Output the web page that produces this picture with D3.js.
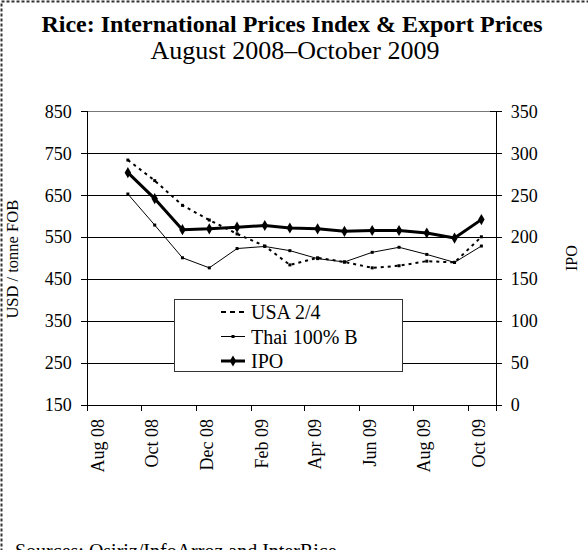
<!DOCTYPE html>
<html>
<head>
<meta charset="utf-8">
<script src="https://cdn.jsdelivr.net/npm/d3@7"></script>
<style>
  html, body { margin: 0; padding: 0; background: #fff; }
  svg { display: block; font-family: "Liberation Serif", "Times New Roman", serif; }
</style>
</head>
<body>
<svg id="chart" width="588" height="550"></svg>
<script>
// Monthly observations, Sep 2008 – Oct 2009
const months = ["2008-09","2008-10","2008-11","2008-12","2009-01","2009-02","2009-03",
                "2009-04","2009-05","2009-06","2009-07","2009-08","2009-09","2009-10"];
// USD / tonne FOB
const usa24   = [734, 685, 626, 591, 558, 529, 484, 501, 491, 477, 482, 493, 490, 551];
const thai100 = [653, 579, 501, 477, 523, 528, 518, 499, 491, 514, 526, 509, 490, 529];
// FAO rice price index (right axis)
const ipo     = [277, 246, 209, 210, 212, 214, 211, 210, 207, 208, 208, 205, 199, 221];

const xTickMonths = ["2008-08","2008-10","2008-12","2009-02","2009-04","2009-06","2009-08","2009-10"];
const xTickLabels = ["Aug 08","Oct 08","Dec 08","Feb 09","Apr 09","Jun 09","Aug 09","Oct 09"];
const leftTicks  = [150, 250, 350, 450, 550, 650, 750, 850];
const rightTicks = [0, 50, 100, 150, 200, 250, 300, 350];

const seriesNames = ["USA 2/4", "Thai 100% B", "IPO"];

const svg = d3.select("#chart");
const plot = { left: 86.7, right: 495.7, top: 111.4, bottom: 405 };

const parseMonth = d3.timeParse("%Y-%m");
const midMonth = s => d3.timeDay.offset(parseMonth(s), 15);

const x = d3.scaleTime()
  .domain([parseMonth("2008-08"), parseMonth("2009-11")])
  .range([plot.left, plot.right]);
const yL = d3.scaleLinear().domain([150, 850]).range([plot.bottom, plot.top]);
const yR = d3.scaleLinear().domain([0, 350]).range([plot.bottom, plot.top]);

// outer dashed frame
svg.append("rect")
  .attr("x", 1.5).attr("y", 1.5).attr("width", 700).attr("height", 700)
  .attr("fill", "none").attr("stroke", "#333").attr("stroke-width", 2)
  .attr("stroke-dasharray", "3,2");

// titles
svg.append("text").attr("x", 292).attr("y", 32).attr("text-anchor", "middle")
  .attr("font-size", 24).attr("font-weight", "bold")
  .text("Rice: International Prices Index & Export Prices");
svg.append("text").attr("x", 295).attr("y", 59).attr("text-anchor", "middle")
  .attr("font-size", 26)
  .text("August 2008\u2013October 2009");

// horizontal gridlines
svg.append("g").selectAll("line").data(leftTicks).join("line")
  .attr("x1", plot.left).attr("x2", plot.right)
  .attr("y1", d => yL(d)).attr("y2", d => yL(d))
  .attr("stroke", (d, i) => i === leftTicks.length - 1 ? "#777" : "#000")
  .attr("stroke-width", 1).attr("shape-rendering", "crispEdges");

// left axis
const gL = svg.append("g").attr("transform", `translate(${plot.left},0)`)
  .call(d3.axisLeft(yL).tickValues(leftTicks).tickSize(6).tickPadding(9));
// right axis, ticks crossing the line
const gR = svg.append("g").attr("transform", `translate(${plot.right},0)`)
  .call(d3.axisRight(yR).tickValues(rightTicks).tickSize(6).tickPadding(9));
gR.selectAll(".tick line").attr("x1", -6);
// bottom axis with vertical month labels
const gB = svg.append("g").attr("transform", `translate(0,${plot.bottom})`)
  .call(d3.axisBottom(x).tickValues(xTickMonths.map(parseMonth))
    .tickSize(6).tickFormat((d, i) => xTickLabels[i]));
gB.selectAll(".tick text")
  .attr("text-anchor", "end")
  .attr("x", -14).attr("y", 0).attr("dy", "0.35em")
  .attr("transform", "translate(10,0) rotate(-90)");

[gL, gR, gB].forEach(g => {
  g.selectAll("text").attr("font-size", 18).attr("fill", "#000")
    .attr("font-family", "Liberation Serif, Times New Roman, serif");
  g.selectAll("line, path").attr("stroke", "#000").attr("shape-rendering", "crispEdges");
});

// axis titles
svg.append("text").attr("transform", `translate(18,${(plot.top + plot.bottom) / 2 + 1}) rotate(-90)`)
  .attr("text-anchor", "middle").attr("font-size", 16.5).text("USD / tonne FOB");
svg.append("text").attr("transform", `translate(577,${(plot.top + plot.bottom) / 2}) rotate(-90)`)
  .attr("text-anchor", "middle").attr("font-size", 16).text("IPO");

// series
const pts = (vals, scale) => vals.map((v, i) => [x(midMonth(months[i])), scale(v)]);
const line = d3.line();

const usaPts = pts(usa24, yL), thaiPts = pts(thai100, yL), ipoPts = pts(ipo, yR);

svg.append("path").attr("d", line(usaPts)).attr("fill", "none")
  .attr("stroke", "#000").attr("stroke-width", 2).attr("stroke-dasharray", "3,4");
svg.append("g").selectAll("rect").data(usaPts).join("rect")
  .attr("x", d => d[0] - 1.5).attr("y", d => d[1] - 1.5).attr("width", 3).attr("height", 3);

svg.append("path").attr("d", line(thaiPts)).attr("fill", "none")
  .attr("stroke", "#000").attr("stroke-width", 1);
svg.append("g").selectAll("rect").data(thaiPts).join("rect")
  .attr("x", d => d[0] - 1.5).attr("y", d => d[1] - 1.5).attr("width", 3).attr("height", 3);

svg.append("path").attr("d", line(ipoPts)).attr("fill", "none")
  .attr("stroke", "#000").attr("stroke-width", 3).attr("stroke-linejoin", "round");
const diamond = d3.symbol().type(d3.symbolDiamond).size(36);
svg.append("g").selectAll("path").data(ipoPts).join("path")
  .attr("d", diamond).attr("transform", d => `translate(${d[0]},${d[1]})`);

// legend
const lg = svg.append("g");
lg.append("rect").attr("x", 174.5).attr("y", 299.5).attr("width", 228).attr("height", 72)
  .attr("fill", "#fff").attr("stroke", "#333").attr("stroke-width", 1);
const legendY = [312, 336.5, 361];
seriesNames.forEach((name, i) => {
  const yy = legendY[i], x0 = 221, x1 = 245;
  const l = lg.append("line").attr("x1", x0).attr("x2", x1).attr("y1", yy).attr("y2", yy)
    .attr("stroke", "#000");
  if (i === 0) l.attr("stroke-width", 2).attr("stroke-dasharray", "5,4");
  if (i === 1) {
    l.attr("stroke-width", 1);
    lg.append("rect").attr("x", 231.5).attr("y", yy - 1.5).attr("width", 3).attr("height", 3);
  }
  if (i === 2) {
    l.attr("stroke-width", 3);
    lg.append("path").attr("d", diamond).attr("transform", `translate(233,${yy})`);
  }
  lg.append("text").attr("x", 251).attr("y", yy).attr("dy", "0.35em")
    .attr("font-size", 20).text(name);
});

// source note
svg.append("text").attr("x", 15).attr("y", 558).attr("font-size", 20)
  .text("Sources:  Osiriz/InfoArroz and InterRice");
</script>
</body>
</html>
